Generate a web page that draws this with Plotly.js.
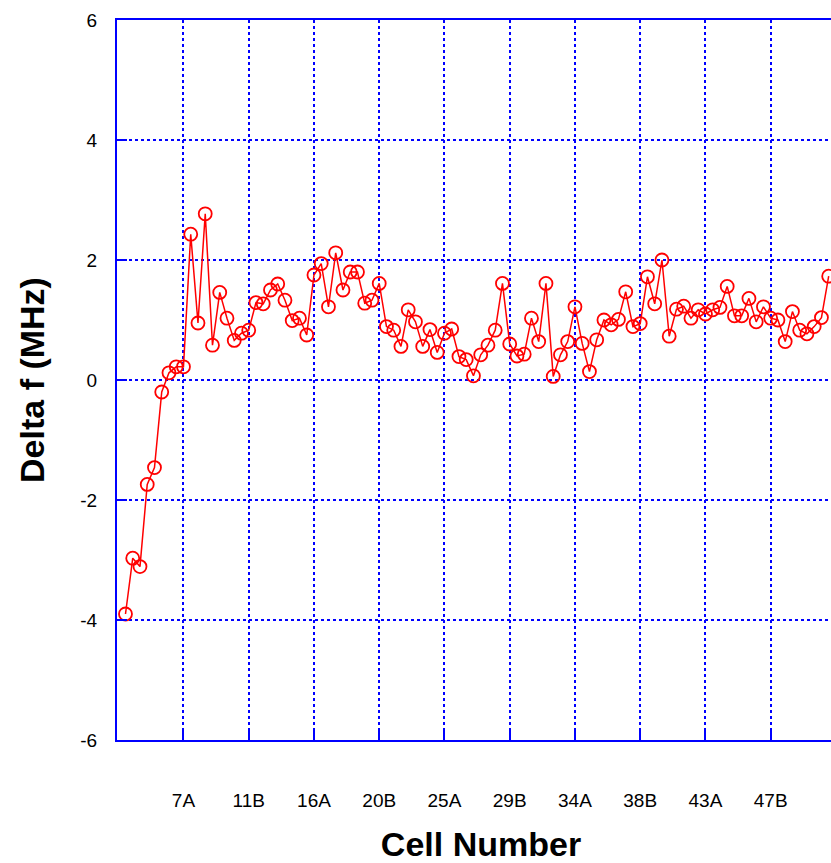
<!DOCTYPE html>
<html>
<head>
<meta charset="utf-8">
<script src="https://cdn.plot.ly/plotly-3.0.1.min.js"></script>
<style>
  html, body { margin: 0; padding: 0; overflow: hidden; background: #ffffff; }
  #chart { width: 855px; height: 863px; }
</style>
</head>
<body>
<div id="chart"></div>
<script>
// Cell identifiers along the x axis (3A .. 51B)
const cells = [
  "3A","3B","4A","4B","5A","5B","6A","6B","7A","7B",
  "8A","8B","9A","9B","10A","10B","11A","11B","12A","12B",
  "13A","13B","14A","14B","15A","15B","16A","16B","17A","17B",
  "18A","18B","19A","19B","20A","20B","21A","21B","22A","22B",
  "23A","23B","24A","24B","25A","25B","26A","26B","27A","27B",
  "28A","28B","29A","29B","30A","30B","31A","31B","32A","32B",
  "33A","33B","34A","34B","35A","35B","36A","36B","37A","37B",
  "38A","38B","39A","39B","40A","40B","41A","41B","42A","42B",
  "43A","43B","44A","44B","45A","45B","46A","46B","47A","47B",
  "48A","48B","49A","49B","50A","50B","51A","51B"
];

// Frequency offset per cell, MHz
const deltaF = [
  -3.90, -2.97, -3.11, -1.74, -1.46, -0.20, 0.12, 0.22, 0.22, 2.43,
   0.95,  2.77,  0.58,  1.46,  1.03,  0.66, 0.78, 0.83, 1.29, 1.27,
   1.50,  1.60,  1.33,  0.99,  1.03,  0.75, 1.75, 1.94, 1.22, 2.12,
   1.50,  1.80,  1.80,  1.28,  1.33,  1.61, 0.89, 0.83, 0.56, 1.17,
   0.97,  0.56,  0.84,  0.46,  0.78,  0.85, 0.39, 0.34, 0.07, 0.42,
   0.58,  0.83,  1.61,  0.60,  0.40,  0.43, 1.03, 0.64, 1.61, 0.06,
   0.42,  0.64,  1.22,  0.61,  0.14,  0.67, 1.00, 0.92, 1.01, 1.47,
   0.89,  0.94,  1.72,  1.27,  2.00,  0.73, 1.18, 1.23, 1.03, 1.17,
   1.10,  1.17,  1.21,  1.56,  1.07,  1.07, 1.36, 0.97, 1.22, 1.03,
   1.00,  0.64,  1.14,  0.83,  0.77,  0.89, 1.04, 1.73
];

// Labelled cells on the x axis
const xTickCells = ["7A","11B","16A","20B","25A","29B","34A","38B","43A","47B"];
const yTickVals = [-6, -4, -2, 0, 2, 4, 6];

const blue = "#0000ff";
const red = "#ff0000";
const font = "Liberation Sans, Arial, sans-serif";

const trace = {
  type: "scatter",
  mode: "lines+markers",
  x: cells,
  y: deltaF,
  line: { color: red, width: 1.5 },
  marker: {
    symbol: "circle-open",
    size: 13,
    color: red,
    line: { color: red, width: 1.8 }
  },
  cliponaxis: false,
  hoverinfo: "x+y"
};

const layout = {
  width: 855,
  height: 863,
  margin: { l: 117, r: 10, t: 20, b: 123 },
  paper_bgcolor: "#ffffff",
  plot_bgcolor: "#ffffff",
  showlegend: false,
  font: { family: font, color: "#000000", size: 19 },
  xaxis: {
    type: "category",
    categoryorder: "array",
    categoryarray: cells,
    range: [-1.17, 99.25],
    tickmode: "array",
    tickvals: xTickCells,
    ticktext: xTickCells,
    ticks: "inside",
    ticklen: 10,
    tickwidth: 2,
    tickcolor: blue,
    ticklabelstandoff: 42,
    tickfont: { family: font, size: 19, color: "#000000" },
    showline: true,
    linecolor: blue,
    linewidth: 2,
    mirror: true,
    showgrid: true,
    gridcolor: blue,
    gridwidth: 2,
    griddash: "dot",
    zeroline: false,
    title: {
      text: "Cell Number",
      font: { family: font, size: 34, color: "#000000", weight: "bold" },
      standoff: 22
    }
  },
  yaxis: {
    range: [-6, 6],
    tickmode: "array",
    tickvals: yTickVals,
    ticktext: yTickVals.map(String),
    ticks: "inside",
    ticklen: 10,
    tickwidth: 2,
    tickcolor: blue,
    ticklabelstandoff: 14,
    tickfont: { family: font, size: 19, color: "#000000" },
    showline: true,
    linecolor: blue,
    linewidth: 2,
    mirror: true,
    showgrid: true,
    gridcolor: blue,
    gridwidth: 2,
    griddash: "dot",
    zeroline: false,
    title: {
      text: "Delta f (MHz)",
      font: { family: font, size: 34, color: "#000000", weight: "bold" },
      standoff: 25
    }
  }
};

Plotly.newPlot("chart", [trace], layout, { displayModeBar: false, staticPlot: true });
</script>
</body>
</html>
